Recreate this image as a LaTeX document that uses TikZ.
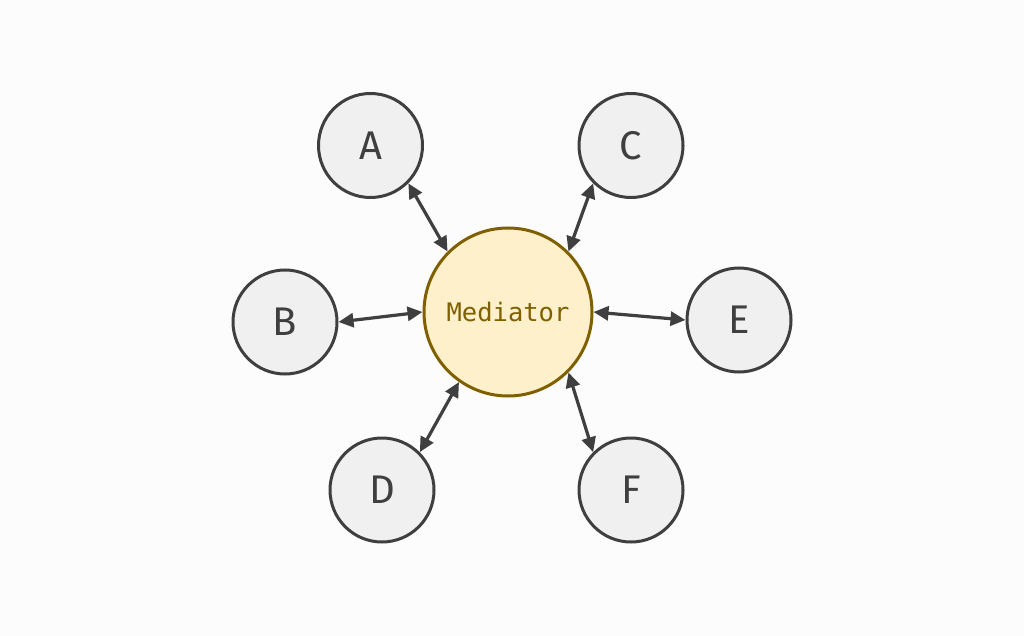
\documentclass[tikz,border=0pt]{standalone}
\usepackage{fontspec}
\setmainfont{Fira Sans}
\setmonofont{DejaVu Sans Mono}
\usetikzlibrary{arrows.meta}
\definecolor{bgc}{HTML}{FCFCFC}
\definecolor{peer}{HTML}{F0F0F0}
\definecolor{peerline}{HTML}{3F3F3F}
\definecolor{medfill}{HTML}{FFF0CC}
\definecolor{medline}{HTML}{7F6000}
\definecolor{medtext}{HTML}{7F6000}
\tikzset{
  peernode/.style={circle, draw=peerline, fill=peer, line width=3pt,
    minimum size=104pt, inner sep=0pt, text=peerline,
    font=\fontsize{40}{44}\selectfont},
  mednode/.style={circle, draw=medline, fill=medfill, line width=3pt,
    minimum size=168pt, inner sep=0pt, text=medtext,
    font=\ttfamily\fontsize{25.5}{28}\selectfont},
  link/.style={draw=peerline, line width=3.2pt,
    {Triangle[length=15pt,width=14pt]}-{Triangle[length=15pt,width=14pt]}}
}
\begin{document}
\begin{tikzpicture}[x=1pt,y=-1pt]
\fill[bgc] (0,0) rectangle (1024,636);
\useasboundingbox (0,0) rectangle (1024,636);
\node[mednode] (M) at (508,312) {Mediator};
\node[peernode] (A) at (370.5,145.5) {A};
\node[peernode] (C) at (631,145.5) {C};
\node[peernode] (B) at (285,322) {B};
\node[peernode] (E) at (739,320) {E};
\node[peernode] (D) at (382,490) {D};
\node[peernode] (F) at (631,490) {F};
\path[link] (A.south east) -- (M.north west);
\path[link] (C.south west) -- (M.north east);
\path[link] (B.east) -- (M.west);
\path[link] (M.east) -- (E.west);
\path[link] (D.north east) -- (M.235);
\path[link] (F.north west) -- (M.south east);
\end{tikzpicture}
\end{document}
